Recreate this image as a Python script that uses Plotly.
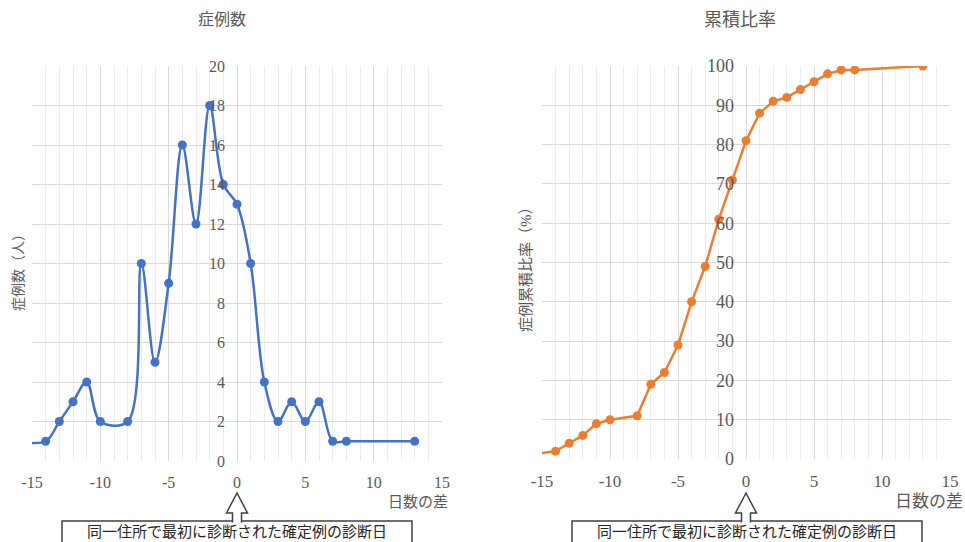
import plotly.graph_objects as go

# ---- data ----
days = [-16, -14, -13, -12, -11, -10, -8, -7, -6, -5, -4, -3, -2, -1, 0, 1, 2, 3, 4, 5, 6, 7, 8, 13]
cases = [1, 1, 2, 3, 4, 2, 2, 10, 5, 9, 16, 12, 18, 14, 13, 10, 4, 2, 3, 2, 3, 1, 1, 1]
cum_pct = [1, 2, 4, 6, 9, 10, 11, 19, 22, 29, 40, 49, 61, 71, 81, 88, 91, 92, 94, 96, 98, 99, 99, 100]

x_tickvals = [-15, -10, -5, 0, 5, 10, 15]
x_ticktext = ["-15", "-10", "-5", "0", "5", "10", "15"]

title_left = "症例数"
title_right = "累積比率"
ytitle_left = "症例数（人）"
ytitle_right = "症例累積比率（%）"
xtitle = "日数の差"
note = "同一住所で最初に診断された確定例の診断日"

W, H = 965, 542
FONT = "Liberation Serif, Noto Sans CJK JP, serif"
GRAY = "#595959"


def px(x):
    return x / W


def py(y):
    return 1 - y / H


fig = go.Figure()
fig.add_trace(go.Scatter(x=days, y=cases, mode="lines+markers",
                         line=dict(color="#4472C4", width=2.5, shape="spline", smoothing=1),
                         marker=dict(size=9, color="#4472C4"),
                         xaxis="x", yaxis="y", showlegend=False))
fig.add_trace(go.Scatter(x=days, y=cum_pct, mode="lines+markers",
                         line=dict(color="#ED7D31", width=2.5),
                         marker=dict(size=9, color="#ED7D31"),
                         xaxis="x2", yaxis="y2", showlegend=False))

L = (32, 442, 66, 461)
R = (542, 950, 66, 459)

common_x = dict(range=[-15, 15], tickvals=x_tickvals, ticktext=x_ticktext,
                showgrid=True, gridcolor="#d9d9d9",
                gridwidth=1, zeroline=False, showline=False, ticks="",
                minor=dict(dtick=1, tick0=0, showgrid=True, gridcolor="#ececec", gridwidth=1),
                ticklabelstandoff=10, fixedrange=True, automargin=False)
common_y = dict(showgrid=True, gridcolor="#d9d9d9", gridwidth=1, zeroline=False,
                showline=False, ticks="", anchor="free", ticklabelstandoff=12,
                fixedrange=True, automargin=False)

fig.update_layout(
    width=W, height=H,
    margin=dict(l=0, r=0, t=0, b=0, autoexpand=False),
    paper_bgcolor="white", plot_bgcolor="white",
    font=dict(family=FONT, color=GRAY),
    xaxis=dict(domain=[px(L[0]), px(L[1])], anchor="y",
               tickfont=dict(size=16, color=GRAY, family=FONT), **common_x),
    yaxis=dict(domain=[py(L[3]), py(L[2])], range=[0, 20], dtick=2,
               position=px((L[0] + L[1]) / 2),
               tickfont=dict(size=16, color=GRAY, family=FONT), **common_y),
    xaxis2=dict(domain=[px(R[0]), px(R[1])], anchor="y2",
                tickfont=dict(size=17, color=GRAY, family=FONT), **common_x),
    yaxis2=dict(domain=[py(R[3]), py(R[2])], range=[0, 100], dtick=10,
                position=px((R[0] + R[1]) / 2),
                tickfont=dict(size=18, color=GRAY, family=FONT), **common_y),
)


def A(text, x, y, size, color=GRAY, angle=0):
    return dict(text=text, x=px(x), y=py(y), xref="paper", yref="paper",
                xanchor="center", yanchor="middle", textangle=angle,
                showarrow=False, font=dict(size=size, color=color, family=FONT))


ann = [
    A(title_left, 222, 20, 16),
    A(title_right, 740, 20, 18),
    A(ytitle_left, 18, 269, 14, angle=-90),
    A(ytitle_right, 526, 266, 15, angle=-90),
    A(xtitle, 418, 502, 15),
    A(xtitle, 929, 501, 17),
]

shapes = []
for (cx, bx0, bx1) in [((L[0] + L[1]) / 2, 62, 412), ((R[0] + R[1]) / 2, 572, 922)]:
    shapes.append(dict(type="rect", xref="paper", yref="paper",
                       x0=px(bx0), x1=px(bx1), y0=py(548), y1=py(521),
                       line=dict(color="#404040", width=1.5), fillcolor="white", layer="above"))
    pts = [(cx - 4.5, 522.5), (cx - 4.5, 513), (cx - 10.5, 513), (cx, 493),
           (cx + 10.5, 513), (cx + 4.5, 513), (cx + 4.5, 522.5)]
    path = "M " + " L ".join(f"{px(a):.5f},{py(b):.5f}" for a, b in pts)
    shapes.append(dict(type="path", xref="paper", yref="paper", path=path,
                       line=dict(color="#404040", width=1.5), fillcolor="white", layer="above"))
    ann.append(A(note, (bx0 + bx1) / 2, 532, 15, color="#262626"))

fig.update_layout(annotations=ann, shapes=shapes)
fig.write_html("out.html", config={"displayModeBar": False},
               post_script="document.body.style.margin='0';")
